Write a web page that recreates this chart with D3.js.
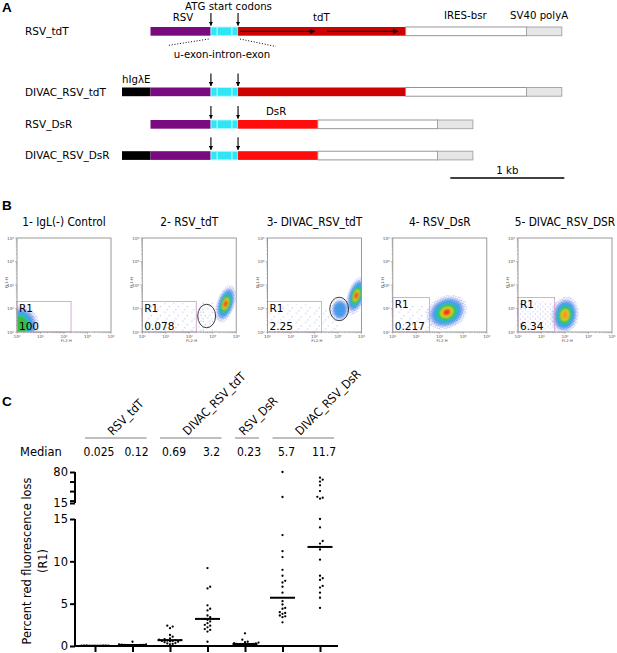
<!DOCTYPE html>
<html><head><meta charset="utf-8">
<script src="https://cdn.jsdelivr.net/npm/d3@7"></script>
<style>body{margin:0;background:#fff}svg{display:block}</style>
</head><body>
<svg id="c" width="617" height="653"></svg>
<script>
// ---------------- DATA ----------------
// Panel A: constructs (lengths in kb)
const constructNames = ["RSV_tdT","DIVAC_RSV_tdT","RSV_DsR","DIVAC_RSV_DsR"];
const hasEnhancer = [false,true,false,true];
const enhancerKb = 0.25, rsvKb = 0.53, uExonKb = 0.055, intronKb = 0.13, exonKb = 0.053;
const reporterKb = [1.47,1.47,0.70,0.70];
const iresKb = [1.06,1.06,1.05,1.05];
const polyAKb = 0.31;
const tandemArrowsKb = [[1.035,1.69],[1.80,2.42]]; // tdTomato tandem copies (row 1 only)

// Panel B: flow cytometry (log10 units, 0..4 decades)
const facsTitles = ["1- IgL(-) Control","2- RSV_tdT","3- DIVAC_RSV_tdT","4- RSV_DsR","5- DIVAC_RSV_DSR"];
const facsR1 = ["100","0.078","2.25","0.217","6.34"];
const gateFL2 = [2.3,2.3,2.3,1.56,1.56];
const gateFL1 = [1.3,1.3,1.3,1.47,1.47];
// clusters: [cx, cy, sx, sy, tiltDeg, maxLevel, outerDensity(0 sparse,1 medium,2 dense)]
const facsClusters = [
  [[0.1,0.3,0.45,0.45,0,4,2]],
  [[2.75,0.65,0.26,0.36,0,0,0],[1.3,0.5,0.9,0.4,0,0,0],[3.55,1.2,0.2,0.44,18,7,2]],
  [[1.2,0.45,1.0,0.4,0,0,0],[3.08,0.95,0.2,0.25,0,2,2],[3.78,1.55,0.2,0.44,18,7,2]],
  [[1.0,0.5,0.5,0.35,0,0,0],[2.3,0.84,0.48,0.37,-25,7,2]],
  [[0.8,0.7,0.85,0.32,0,0,1],[2.0,0.72,0.31,0.42,10,6,2]]
];
const facsGateEllipse = [null,[2.74,0.68,0.38,0.5],[3.05,0.98,0.4,0.5],null,null];
const decadeLabels = ["10⁰","10¹","10²","10³","10⁴"];

// Panel C: percent red fluorescence loss
const groupNames = ["RSV_tdT","DIVAC_RSV_tdT","RSV_DsR","DIVAC_RSV_DsR"];
const groupCols = [[0,1],[2,3],[4,4],[5,6]];
const medianLabels = ["0.025","0.12","0.69","3.2","0.23","5.7","11.7"];
const medians = [0.025,0.12,0.69,3.2,0.23,5.7,11.7];
const col1 = [0.01,0.02,0.02,0.03,0.03,0.04,0.04,0.05,0.02,0.01,0.03];
const col2 = [0.5,0.2,0.18,0.15,0.14,0.12,0.12,0.1,0.1,0.08,0.06,0.05];
const col3 = [2.4,2.3,2.1,1.3,1.1,0.9,0.8,0.75,0.7,0.7,0.65,0.6,0.6,0.55,0.5,0.45,0.35,0.3,0.25,0.2];
const col4 = [9.2,7.0,6.8,4.8,4.4,4.2,3.6,3.4,3.2,3.1,2.9,2.7,2.5,2.4,2.2,2.0,1.9,1.7,0.5];
const col5 = [1.5,0.75,0.5,0.45,0.4,0.35,0.3,0.25,0.25,0.2,0.2,0.15,0.1,0.1];
const col6 = [80,27.6,13.1,11.2,10.5,9.0,8.3,7.7,7.5,7.0,6.3,5.3,4.9,4.5,4.4,4.0,3.9,3.8,3.6,3.5,3.4,2.8];
const col7 = [68,64,60,52,40,28,26,24,15,14,12.4,12.1,11.4,10.2,8.3,8.0,7.8,7.1,6.9,6.3,5.7,4.5];
const columnsData = [col1,col2,col3,col4,col5,col6,col7];

// ---------------- DRAW ----------------
const svg = d3.select("#c");
const F = "'DejaVu Sans', sans-serif";
const FC = "'DejaVu Sans Condensed','DejaVu Sans',sans-serif";
const defs = svg.append("defs");
defs.append("marker").attr("id","ah").attr("viewBox","0 0 10 10").attr("refX",9).attr("refY",5)
  .attr("markerWidth",4).attr("markerHeight",4).attr("orient","auto")
  .append("path").attr("d","M0,0L10,5L0,10z").attr("fill","#000");
defs.append("marker").attr("id","ah2").attr("viewBox","0 0 10 10").attr("refX",9).attr("refY",5)
  .attr("markerWidth",4).attr("markerHeight",4).attr("orient","auto")
  .append("path").attr("d","M0,0L10,5L0,10z").attr("fill","#220000");
defs.append("filter").attr("id","blur").attr("x","-50%").attr("y","-50%").attr("width","200%").attr("height","200%")
  .append("feGaussianBlur").attr("stdDeviation",1.0);
function speckPattern(id, size, dots){
  const p = defs.append("pattern").attr("id",id).attr("width",size).attr("height",size).attr("patternUnits","userSpaceOnUse");
  dots.forEach(([x,y])=>p.append("circle").attr("cx",x).attr("cy",y).attr("r",0.45).attr("fill","#3b5bd8"));
}
speckPattern("speck0",9,[[1,1],[5.5,4.5],[3,7.5]]);
speckPattern("speck1",5,[[1,1],[3.5,3.2]]);
speckPattern("speck2",3.2,[[0.8,0.8],[2.4,2.2]]);

function letter(t,x,y){svg.append("text").attr("x",x).attr("y",y).text(t)
  .attr("font-family","'Liberation Sans',Arial,sans-serif").attr("font-weight","bold").attr("font-size",13.5);}
letter("A",2,12); letter("B",2,210); letter("C",2,406);

// ----- Panel A -----
const kb = d3.scaleLinear().domain([0,4]).range([122,122+4*114]);
const rowY = [27,87.5,120,151.2];
const barH = 8.7;
const gA = svg.append("g").attr("font-family",F).attr("font-size",10.2);
constructNames.forEach((name,i)=>{
  const y = rowY[i];
  gA.append("text").attr("x",25).attr("y",y+8).attr("font-size",10.5).text(name);
  const segs = [];
  let p = 0;
  const push=(len,fill,stroke)=>{segs.push({a:p,b:p+len,fill,stroke});p+=len;};
  push(enhancerKb, hasEnhancer[i]?"#000":"none", "none");
  push(rsvKb,"#7a0a80","none");
  push(uExonKb,"#2ee6f5","#b8fbff");
  push(intronKb,"#2ee6f5","#b8fbff");
  push(exonKb,"#2ee6f5","#b8fbff");
  push(reporterKb[i], i<2?"#cf0000":"#ff0d0d","none");
  push(iresKb[i],"#fff","#8a8a8a");
  push(polyAKb,"#e6e6e6","#a0a0a0");
  gA.selectAll(null).data(segs.filter(s=>s.fill!=="none")).join("rect")
    .attr("x",d=>kb(d.a)).attr("y",y).attr("width",d=>kb(d.b)-kb(d.a)).attr("height",barH)
    .attr("fill",d=>d.fill).attr("stroke",d=>d.stroke).attr("stroke-width",0.9);
  [enhancerKb+rsvKb, enhancerKb+rsvKb+uExonKb+intronKb+exonKb].forEach(k=>{
    gA.append("line").attr("x1",kb(k)).attr("x2",kb(k)).attr("y1",y-14).attr("y2",y-1.5)
      .attr("stroke","#000").attr("stroke-width",1.1).attr("marker-end","url(#ah)");
  });
  if(i===0){
    tandemArrowsKb.forEach(([a,b])=>{
      gA.append("line").attr("x1",kb(a)).attr("x2",kb(b)).attr("y1",y+barH/2).attr("y2",y+barH/2)
        .attr("stroke","#220000").attr("stroke-width",1.3).attr("marker-end","url(#ah2)");
    });
  }
});
gA.append("text").attr("x",228.5).attr("y",10).attr("text-anchor","middle").text("ATG start codons");
gA.append("text").attr("x",183).attr("y",21).attr("text-anchor","middle").text("RSV");
gA.append("text").attr("x",313).attr("y",21).text("tdT");
gA.append("text").attr("x",444).attr("y",19).text("IRES-bsr");
gA.append("text").attr("x",510).attr("y",19).text("SV40 polyA");
gA.append("text").attr("x",122).attr("y",83).text("hIgλE");
gA.append("text").attr("x",266).attr("y",115).text("DsR");
gA.append("text").attr("x",222).attr("y",58).attr("text-anchor","middle").text("u-exon-intron-exon");
gA.append("line").attr("x1",kb(0.76)).attr("y1",rowY[0]+12).attr("x2",kb(0.4)).attr("y2",rowY[0]+18.5)
  .attr("stroke","#000").attr("stroke-dasharray","1,1.8");
gA.append("line").attr("x1",kb(1.035)).attr("y1",rowY[0]+12).attr("x2",kb(1.35)).attr("y2",rowY[0]+19.5)
  .attr("stroke","#000").attr("stroke-dasharray","1,1.8");
gA.append("line").attr("x1",kb(2.88)).attr("x2",kb(3.88)).attr("y1",178).attr("y2",178).attr("stroke","#000").attr("stroke-width",1.3);
gA.append("text").attr("x",(kb(2.88)+kb(3.88))/2).attr("y",174).attr("text-anchor","middle").text("1 kb");

// ----- Panel B -----
const levelK = [1.9,1.55,1.28,1.05,0.85,0.63,0.45,0.27];
const levelFill = [null,"#3a5fe0","#2f96ea","#22c6d6","#3dbb3d","#e4e42a","#f59a1f","#e3261d"];
const levelOp = [1,0.45,0.8,0.9,0.95,0.95,0.95,0.95];
const boxW = 94, boxY = 238;
facsTitles.forEach((title,i)=>{
  const x0 = 17 + i*125.25;
  const sx = d3.scaleLinear().domain([0,4]).range([x0,x0+boxW]);
  const sy = d3.scaleLinear().domain([0,4]).range([boxY+boxW,boxY]);
  const dec = boxW/4;
  const g = svg.append("g");
  g.append("text").attr("x",x0+boxW/2).attr("y",226).attr("text-anchor","middle")
    .attr("font-family",FC).attr("font-stretch","condensed").attr("font-size",11.8).text(title);
  const cid = "clip"+i;
  defs.append("clipPath").attr("id",cid).append("rect").attr("x",x0).attr("y",boxY).attr("width",boxW).attr("height",boxW);
  const inner = g.append("g").attr("clip-path",`url(#${cid})`);
  facsClusters[i].forEach(c=>{
    const [cx,cy,ssx,ssy,tilt,maxL,dens] = c;
    const cg = inner.append("g").attr("transform",`translate(${sx(cx)},${sy(cy)}) rotate(${tilt})`);
    for(let L=0; L<=maxL; L++){
      cg.append("ellipse").attr("rx",ssx*dec*levelK[L]).attr("ry",ssy*dec*levelK[L])
        .attr("fill", L===0 ? `url(#speck${dens})` : levelFill[L])
        .attr("opacity",levelOp[L])
        .attr("filter", L===0?null:"url(#blur)");
    }
  });
  g.append("rect").attr("x",sx(0)).attr("y",sy(gateFL1[i])).attr("width",sx(gateFL2[i])-sx(0))
    .attr("height",sy(0)-sy(gateFL1[i])).attr("fill","none").attr("stroke","#d8a2cc").attr("stroke-width",0.9);
  if(facsGateEllipse[i]){
    const [ex,ey,erx,ery] = facsGateEllipse[i];
    g.append("ellipse").attr("cx",sx(ex)).attr("cy",sy(ey)).attr("rx",erx*dec).attr("ry",ery*dec)
      .attr("fill","none").attr("stroke","#222").attr("stroke-width",0.9);
  }
  g.append("text").attr("x",x0+2).attr("y",sy(gateFL1[i])+11).attr("font-family",F).attr("font-size",10.5).text("R1");
  g.append("text").attr("x",x0+2).attr("y",boxY+boxW-2).attr("font-family",F).attr("font-size",10.5).text(facsR1[i]);
  g.append("rect").attr("x",x0).attr("y",boxY).attr("width",boxW).attr("height",boxW)
    .attr("fill","none").attr("stroke","#9a9a9a").attr("stroke-width",1);
  const minor = [];
  for(let d=0; d<4; d++) for(let m=1;m<=9;m++) minor.push(d+Math.log10(m));
  minor.push(4);
  g.selectAll(null).data(minor).join("line").attr("x1",d=>sx(d)).attr("x2",d=>sx(d))
    .attr("y1",boxY+boxW).attr("y2",d=>boxY+boxW+(Number.isInteger(d)?2:1.2)).attr("stroke","#888").attr("stroke-width",0.5);
  g.selectAll(null).data(minor).join("line").attr("y1",d=>sy(d)).attr("y2",d=>sy(d))
    .attr("x1",x0).attr("x2",d=>x0-(Number.isInteger(d)?2:1.2)).attr("stroke","#888").attr("stroke-width",0.5);
  g.selectAll(null).data(decadeLabels).join("text").attr("x",(d,k)=>sx(k)).attr("y",boxY+boxW+6)
    .attr("text-anchor","middle").attr("font-family",F).attr("font-size",4.2).attr("fill","#555").text(d=>d);
  g.selectAll(null).data(decadeLabels).join("text").attr("x",x0-3).attr("y",(d,k)=>sy(k)+1.5)
    .attr("text-anchor","end").attr("font-family",F).attr("font-size",4.2).attr("fill","#555").text(d=>d);
  g.append("text").attr("transform",`translate(${x0-9},${sy(2.1)}) rotate(-90)`).attr("text-anchor","middle")
    .attr("font-family",F).attr("font-size",3.8).attr("fill","#555").text("FL1-H");
  g.append("text").attr("x",sx(2.1)).attr("y",boxY+boxW+10).attr("text-anchor","middle")
    .attr("font-family",F).attr("font-size",3.8).attr("fill","#555").text("FL2-H");
});

// ----- Panel C -----
const xC = d3.scalePoint().domain(d3.range(7)).range([95,320]);
const yLow = d3.scaleLinear().domain([0,15]).range([646,519]);
const yHigh = d3.scaleLinear().domain([15,80]).range([503,472]);
const yv = v => v>15 ? yHigh(v) : yLow(v);
const gC = svg.append("g").attr("font-family",F);

groupCols.forEach(([a,b],gi)=>{
  const l = xC(a)-10, r = xC(b)+14;
  gC.append("line").attr("x1",l).attr("x2",r).attr("y1",438).attr("y2",438).attr("stroke","#a8a8a8").attr("stroke-width",1.5);
  gC.append("text").attr("transform",`translate(${(l+r)/2-3},436) rotate(-45)`)
    .attr("font-family",FC).attr("font-stretch","condensed").attr("font-size",12).text(groupNames[gi]);
});
gC.append("text").attr("x",20).attr("y",456).attr("font-size",11.5).text("Median");
gC.selectAll(null).data(medianLabels).join("text").attr("x",(d,i)=>xC(i)+4).attr("y",456)
  .attr("text-anchor","middle").attr("font-family",FC).attr("font-stretch","condensed").attr("font-size",12).text(d=>d);

const axL = gC.append("g").attr("transform","translate(75,0)")
  .call(d3.axisLeft(yLow).tickValues([0,5,10,15]).tickSize(5).tickPadding(2));
const axU = gC.append("g").attr("transform","translate(75,0)")
  .call(d3.axisLeft(yHigh).tickValues([15,20,40,60,80]).tickSize(5).tickPadding(2)
    .tickFormat(d=> (d===15||d===80)? d : ""));
[axL,axU].forEach(a=>{
  a.selectAll("path,line").attr("stroke","#000").attr("stroke-width",2);
  a.select(".domain").attr("d", a===axL ? "M0,646V519" : "M0,503V472");
  a.selectAll("text").attr("font-family",F).attr("font-size",11.5).attr("fill","#000");
});
gC.append("line").attr("x1",74).attr("x2",338).attr("y1",646).attr("y2",646).attr("stroke","#000").attr("stroke-width",2);
const axB = gC.append("g").attr("transform","translate(0,646)").call(d3.axisBottom(xC).tickSize(6).tickFormat(""));
axB.select(".domain").remove();
axB.selectAll("line").attr("stroke","#000").attr("stroke-width",2);

gC.append("text").attr("transform","translate(31,561) rotate(-90)").attr("text-anchor","middle")
  .attr("font-size",11.4).text("Percent red fluorescence loss");
gC.append("text").attr("transform","translate(47,561) rotate(-90)").attr("text-anchor","middle")
  .attr("font-size",11.4).text("(R1)");

function swarm(vals, d){
  const pts = vals.map(v=>({v,y:yv(v)})).sort((a,b)=>b.y-a.y);
  const placed = [];
  pts.forEach(p=>{
    for(let k=0;k<60;k++){
      const off = k===0?0:(k%2?1:-1)*Math.ceil(k/2)*d;
      if(placed.every(q=>(q.dx-off)**2+(q.y-p.y)**2 >= d*d)){p.dx=off;break;}
    }
    placed.push(p);
  });
  return placed;
}
columnsData.forEach((vals,ci)=>{
  const pts = swarm(vals,2.7);
  gC.selectAll(null).data(pts).join("circle").attr("cx",d=>xC(ci)+d.dx).attr("cy",d=>d.y)
    .attr("r",1.15).attr("fill","#000");
  gC.append("line").attr("x1",xC(ci)-12.5).attr("x2",xC(ci)+12.5).attr("y1",yv(medians[ci])).attr("y2",yv(medians[ci]))
    .attr("stroke","#000").attr("stroke-width",2);
});
</script>
</body></html>
